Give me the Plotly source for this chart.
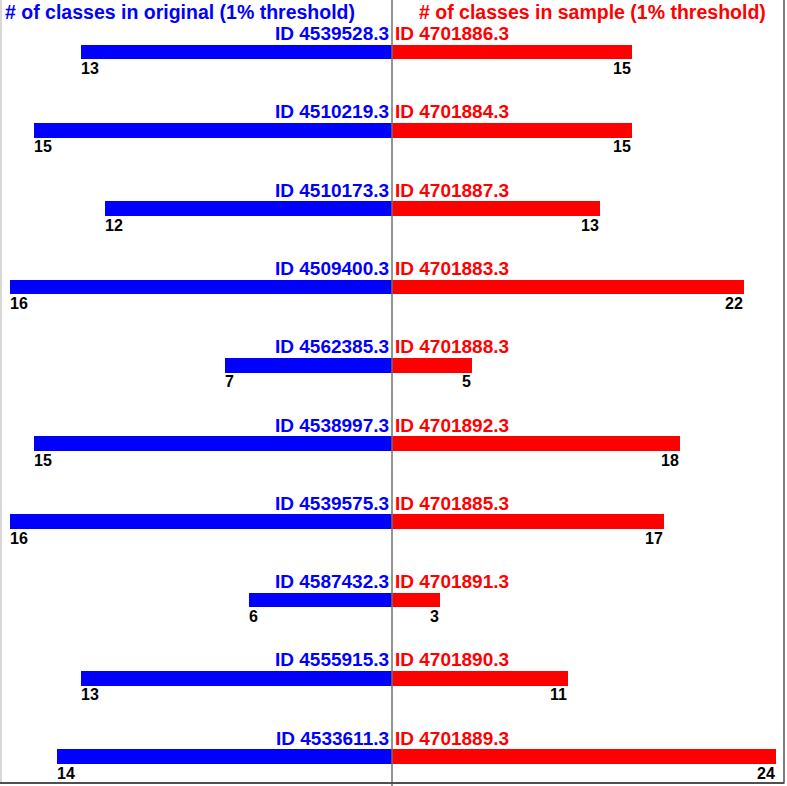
import plotly.graph_objects as go

left_ids = ["ID 4539528.3", "ID 4510219.3", "ID 4510173.3", "ID 4509400.3", "ID 4562385.3",
            "ID 4538997.3", "ID 4539575.3", "ID 4587432.3", "ID 4555915.3", "ID 4533611.3"]
left_vals = [13, 15, 12, 16, 7, 15, 16, 6, 13, 14]
right_ids = ["ID 4701886.3", "ID 4701884.3", "ID 4701887.3", "ID 4701883.3", "ID 4701888.3",
             "ID 4701892.3", "ID 4701885.3", "ID 4701891.3", "ID 4701890.3", "ID 4701889.3"]
right_vals = [15, 15, 13, 22, 5, 18, 17, 3, 11, 24]
left_title = "# of classes in original (1% threshold)"
right_title = "# of classes in sample (1% threshold)"

W, H = 787, 786
CX = 392
FONT = "Liberation Sans, Arial, sans-serif"
BLUE = "#0000FF"
RED = "#FF0000"

fig = go.Figure()
fig.add_trace(go.Bar(x=left_vals, y=left_ids, orientation="h", marker=dict(color=BLUE, line=dict(width=0)),
                     width=0.188, xaxis="x", yaxis="y", hoverinfo="x+y"))
fig.add_trace(go.Bar(x=right_vals, y=right_ids, orientation="h", marker=dict(color=RED, line=dict(width=0)),
                     width=0.188, xaxis="x2", yaxis="y2", hoverinfo="x+y"))

yrange = [9.374, -0.664]
annotations = []
for lid, lv in zip(left_ids, left_vals):
    annotations.append(dict(x=0, y=lid, xref="x", yref="y", text="<b>%s</b>" % lid, showarrow=False,
                            xanchor="right", yanchor="bottom", xshift=-1, yshift=6,
                            font=dict(family=FONT, size=19, color=BLUE)))
    annotations.append(dict(x=lv, y=lid, xref="x", yref="y", text="<b>%d</b>" % lv, showarrow=False,
                            xanchor="left", yanchor="top", xshift=-2, yshift=-6,
                            font=dict(family=FONT, size=16, color="black")))
for rid, rv in zip(right_ids, right_vals):
    annotations.append(dict(x=0, y=rid, xref="x2", yref="y2", text="<b>%s</b>" % rid, showarrow=False,
                            xanchor="left", yanchor="bottom", xshift=1, yshift=6,
                            font=dict(family=FONT, size=19, color=RED)))
    annotations.append(dict(x=rv, y=rid, xref="x2", yref="y2", text="<b>%d</b>" % rv, showarrow=False,
                            xanchor="right", yanchor="top", xshift=1, yshift=-6,
                            font=dict(family=FONT, size=16, color="black")))

annotations.append(dict(x=3 / W, y=1, xref="paper", yref="paper", text="<b>%s</b>" % left_title,
                        showarrow=False, xanchor="left", yanchor="top", yshift=1,
                        font=dict(family=FONT, size=19.5, color=BLUE)))
annotations.append(dict(x=768 / W, y=1, xref="paper", yref="paper", text="<b>%s</b>" % right_title,
                        showarrow=False, xanchor="right", yanchor="top", yshift=1,
                        font=dict(family=FONT, size=19.5, color=RED)))

shapes = [
    dict(type="line", xref="paper", yref="paper", x0=CX / W, x1=CX / W, y0=0, y1=1,
         line=dict(color="#707070", width=1.5)),
    dict(type="line", xref="paper", yref="paper", x0=1 / W, x1=1 / W, y0=0.004, y1=1,
         line=dict(color="#b0b0b0", width=1)),
    dict(type="line", xref="paper", yref="paper", x0=784 / W, x1=784 / W, y0=0.004, y1=1,
         line=dict(color="#505050", width=1.5)),
    dict(type="line", xref="paper", yref="paper", x0=0, x1=784.5 / W, y0=3 / H, y1=3 / H,
         line=dict(color="#505050", width=2)),
]

fig.update_layout(
    width=W, height=H,
    margin=dict(l=0, r=0, t=0, b=0),
    paper_bgcolor="white", plot_bgcolor="white",
    showlegend=False,
    bargap=0,
    xaxis=dict(domain=[0, CX / W], range=[392 / 23.9, 0], visible=False, fixedrange=True),
    xaxis2=dict(domain=[CX / W, 1], range=[0, 395 / 16.0], visible=False, fixedrange=True),
    yaxis=dict(range=yrange, visible=False, type="category",
               categoryorder="array", categoryarray=left_ids),
    yaxis2=dict(range=yrange, visible=False, type="category", anchor="x2",
                categoryorder="array", categoryarray=right_ids),
    annotations=annotations,
    shapes=shapes,
)

fig.write_html("out.html", config={"displayModeBar": False},
               post_script="document.body.style.margin='0';document.body.style.overflow='hidden';")
